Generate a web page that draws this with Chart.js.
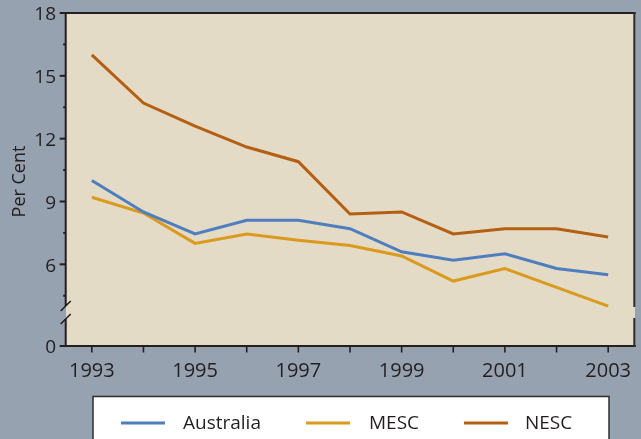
<!DOCTYPE html>
<html><head><meta charset="utf-8">
<script src="https://cdn.jsdelivr.net/npm/chart.js@4/dist/chart.umd.min.js"></script>
<style>html,body{margin:0;padding:0;background:#96A2B0;}#wrap{width:641px;height:439px;position:relative;}</style>
</head><body><div id="wrap"><canvas id="c" width="641" height="439"></canvas></div>
<script>
const years = ['1993','1994','1995','1996','1997','1998','1999','2000','2001','2002','2003'];
const xTickLabels = ['1993','','1995','','1997','','1999','','2001','','2003'];
const australia = [10.0, 8.5, 7.45, 8.1, 8.1, 7.7, 6.6, 6.2, 6.5, 5.8, 5.5];
const mesc = [9.2, 8.45, 7.0, 7.45, 7.15, 6.9, 6.4, 5.2, 5.8, 4.9, 4.0];
const nesc = [16.0, 13.7, 12.6, 11.6, 10.9, 8.4, 8.5, 7.45, 7.7, 7.7, 7.3];
const seriesNames = ['Australia', 'MESC', 'NESC'];
const yBreakValue = 2.1;            // axis bottom value shown as "0" after the break
const yMajorTicks = [6, 9, 12, 15, 18];
const yMinorTicks = [4.5, 7.5, 10.5, 13.5, 16.5];
const yTitle = 'Per Cent';

const COLORS = ['#4F7EBE', '#DA9A1E', '#B45F12'];
const INK = '#231F20';
const FONT = "'Open Sans', 'DejaVu Sans', sans-serif";

const chrome = {
  id: 'chrome',
  beforeDraw(chart) {
    const {ctx, chartArea: a} = chart;
    ctx.save();
    ctx.fillStyle = '#96A2B0';
    ctx.fillRect(0, 0, chart.width, chart.height);
    ctx.fillStyle = '#E3DBC5';
    ctx.fillRect(a.left, a.top, a.right - a.left + 1, a.bottom - a.top);
    ctx.restore();
  },
  afterDraw(chart) {
    const {ctx, chartArea: a} = chart;
    const ys = chart.scales.y, xs = chart.scales.x;
    ctx.save();
    ctx.strokeStyle = INK;
    ctx.lineWidth = 2;
    ctx.lineCap = 'butt';
    const L = a.left - 0.3, R = a.right + 0.3, T = a.top, B = a.bottom;
    const line = (x1, y1, x2, y2) => { ctx.beginPath(); ctx.moveTo(x1, y1); ctx.lineTo(x2, y2); ctx.stroke(); };
    line(L - 1, T, R + 1.5, T);
    line(L - 1, B, R + 1.5, B);
    line(L, T - 1, L, 306);
    line(L, 319, L, B + 1);
    ctx.strokeStyle = '#2E2E2E';
    line(R, T - 1, R, 307);
    line(R, 318, R, B + 1);
    ctx.strokeStyle = INK;
    ctx.lineWidth = 1.6;
    line(L - 5, 311, L + 5, 301);
    line(L - 5, 324, L + 5, 314);
    ctx.lineWidth = 2;
    yMajorTicks.concat([yBreakValue]).forEach(v => { const p = ys.getPixelForValue(v); line(L - 6, p, L, p); });
    yMinorTicks.forEach(v => { const p = ys.getPixelForValue(v); line(L - 2.5, p, L, p); });
    ctx.lineWidth = 1.6;
    years.forEach((y, i) => { const p = xs.getPixelForValue(i); line(p, B, p, B + 6.5); });
    ctx.fillStyle = INK;
    ctx.font = '18px ' + FONT;
    ctx.textAlign = 'center';
    ctx.textBaseline = 'middle';
    ctx.translate(20, 181.5);
    ctx.rotate(-Math.PI / 2);
    ctx.fillText(yTitle, 0, 0);
    ctx.restore();
    // legend
    ctx.save();
    ctx.fillStyle = '#FFFFFF';
    ctx.fillRect(93, 396.5, 516, 50);
    ctx.strokeStyle = '#2E2E2E';
    ctx.lineWidth = 1.5;
    ctx.strokeRect(93, 396.5, 516, 50);
    const lx = [121, 306, 464], tx = [183, 369, 525];
    ctx.font = '19px ' + FONT;
    ctx.textAlign = 'left';
    ctx.textBaseline = 'middle';
    chart.data.datasets.forEach((ds, i) => {
      ctx.strokeStyle = ds.borderColor;
      ctx.lineWidth = 3;
      line(lx[i], 423, lx[i] + 44, 423);
      ctx.fillStyle = INK;
      ctx.fillText(ds.label, tx[i], 424);
    });
    ctx.restore();
  }
};

new Chart(document.getElementById('c'), {
  type: 'line',
  data: {
    labels: years,
    datasets: [australia, mesc, nesc].map((d, i) => ({
      label: seriesNames[i], data: d, borderColor: COLORS[i], backgroundColor: COLORS[i],
      borderWidth: 3, pointRadius: 0, tension: 0, fill: false
    }))
  },
  options: {
    responsive: false, animation: false, devicePixelRatio: 1,
    layout: { padding: { left: 0, top: 13, right: 7, bottom: 0 } },
    plugins: { legend: { display: false }, tooltip: { enabled: false } },
    scales: {
      x: {
        type: 'category', offset: true,
        grid: { display: false, drawTicks: false }, border: { display: false },
        ticks: { autoSkip: false, maxRotation: 0, color: INK, font: { family: FONT, size: 20 }, padding: 13,
          callback: (v, i) => xTickLabels[i] },
        afterFit: s => { s.height = 93; s.paddingLeft = 0; s.paddingRight = 0; }
      },
      y: {
        min: yBreakValue, max: 18,
        grid: { display: false, drawTicks: false }, border: { display: false },
        afterBuildTicks: s => { s.ticks = [yBreakValue].concat(yMinorTicks, yMajorTicks).sort((a, b) => a - b).map(v => ({ value: v })); },
        ticks: { color: INK, font: { family: FONT, size: 19 }, padding: 10, labelOffset: 2,
          callback: v => v === yBreakValue ? '0' : (yMajorTicks.includes(v) ? String(v) : '') },
        afterFit: s => { s.width = 66; s.paddingTop = 0; s.paddingBottom = 0; }
      }
    }
  },
  plugins: [chrome]
});
</script></body></html>
